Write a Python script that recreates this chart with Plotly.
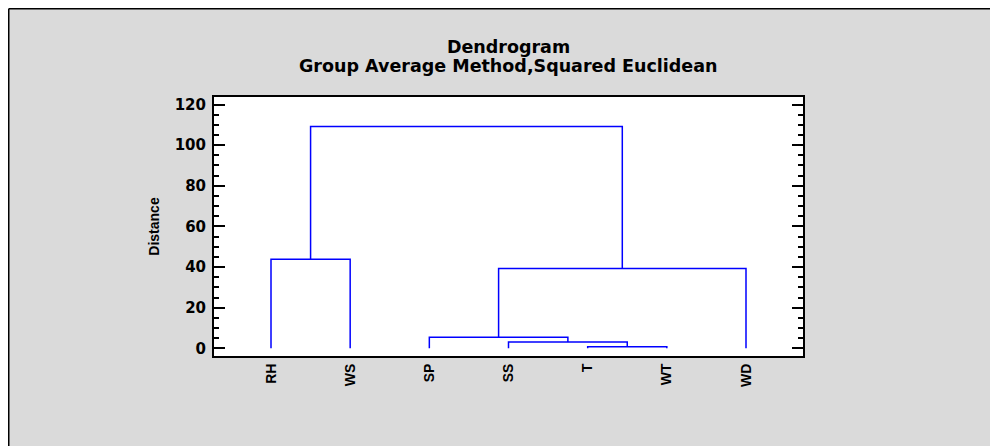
import plotly.graph_objects as go

# ---- data ----
leaves = ["RH", "WS", "SP", "SS", "T", "WT", "WD"]
# linkage-style merges: cluster ids 0..6 are leaves, new clusters get ids 7, 8, ...
merge_left = [4, 3, 2, 9, 0, 11]
merge_right = [5, 7, 8, 6, 1, 10]
merge_height = [0.8, 3.1, 5.4, 39.3, 43.8, 109.2]
y_tick_vals = [0, 20, 40, 60, 80, 100, 120]

title_text = "Dendrogram"
subtitle_text = "Group Average Method,Squared Euclidean"
y_title = "Distance"

# ---- build dendrogram segments from the data ----
pos = {i: float(i + 1) for i in range(len(leaves))}
hgt = {i: 0.0 for i in range(len(leaves))}
xs, ys = [], []
for k, (a, b, h) in enumerate(zip(merge_left, merge_right, merge_height)):
    xa, xb = pos[a], pos[b]
    xs += [xa, xa, xb, xb, None]
    ys += [hgt[a], h, h, hgt[b], None]
    nid = len(leaves) + k
    pos[nid] = (xa + xb) / 2
    hgt[nid] = h

fig = go.Figure()
fig.add_trace(go.Scatter(x=xs, y=ys, mode="lines",
                         line=dict(color="#0000ff", width=1.5),
                         hoverinfo="skip", showlegend=False))

# page body has an 8px margin; figure coordinates below are relative to the figure
OFF = 8
W, H = 998 - OFF, 446 - OFF
L, R, T, B = 214 - OFF, 803 - OFF, 97 - OFF, 356 - OFF
def px(x):
    return (x - L) / (R - L)
def py(y):
    return (B - y) / (B - T)

fig.update_layout(
    width=W, height=H,
    margin=dict(l=L, r=W - R, t=T, b=H - B, pad=0),
    paper_bgcolor="#dadada",
    plot_bgcolor="white",
    title=dict(text=title_text, x=0.5, xref="paper", xanchor="center",
               y=1 - (47 - OFF) / H, yref="container", yanchor="middle",
               font=dict(family="DejaVu Sans", size=17.5, color="black", weight="bold")),
    annotations=[dict(text=subtitle_text, x=0.5, xref="paper", xanchor="center",
                      y=py(66 - OFF), yref="paper", yanchor="middle", showarrow=False,
                      font=dict(family="DejaVu Sans", size=17.5, color="black", weight="bold"))],
    shapes=[
        dict(type="line", xref="paper", yref="paper", x0=px(0.75), x1=px(0.75),
             y0=py(0.75), y1=py(H), line=dict(color="black", width=1.5)),
        dict(type="line", xref="paper", yref="paper", x0=px(0.75), x1=px(W),
             y0=py(0.75), y1=py(0.75), line=dict(color="black", width=1.5)),
    ],
)

fig.update_xaxes(
    range=[0.28, 7.72],
    tickmode="array", tickvals=[pos[i] for i in range(len(leaves))], ticktext=leaves,
    tickangle=-90, ticks="", showgrid=False, zeroline=False,
    showline=True, linecolor="black", linewidth=2, mirror=True,
    tickfont=dict(family="Liberation Sans", size=14, color="black", weight="bold"),
    ticklabelstandoff=0,
)
fig.update_yaxes(
    range=[-3.8, 123.7],
    tickmode="array", tickvals=y_tick_vals,
    ticks="inside", ticklen=11, tickwidth=1.5, tickcolor="black",
    minor=dict(dtick=5, tick0=0, ticks="inside", ticklen=5, tickwidth=1.5, tickcolor="black"),
    showgrid=False, zeroline=False,
    showline=True, linecolor="black", linewidth=2, mirror="ticks",
    tickfont=dict(family="DejaVu Sans", size=15, color="black", weight="bold"),
    ticklabelstandoff=3,
    title=dict(text=y_title, standoff=12,
               font=dict(family="Liberation Sans", size=14, color="black", weight="bold")),
)

fig.write_html("out.html")
